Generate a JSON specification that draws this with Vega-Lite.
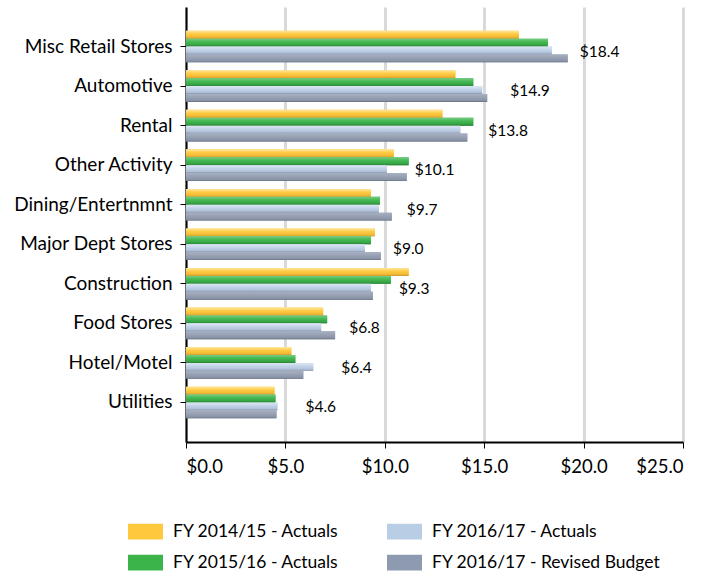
{
  "$schema": "https://vega.github.io/schema/vega-lite/v6.json",
  "autosize": "none",
  "padding": {"left": 186, "top": 7, "right": 24, "bottom": 134},
  "width": 497,
  "height": 435,
  "background": "white",
  "config": {
    "font": "Lato",
    "view": {"stroke": null},
    "axis": {"labelFont": "Lato", "labelColor": "black"}
  },
  "data": {
    "values": [
      {"cat": "Misc Retail Stores", "series": "FY 2014/15 - Actuals", "value": 16.75},
      {"cat": "Misc Retail Stores", "series": "FY 2015/16 - Actuals", "value": 18.2},
      {"cat": "Misc Retail Stores", "series": "FY 2016/17 - Actuals", "value": 18.4},
      {"cat": "Misc Retail Stores", "series": "FY 2016/17 - Revised Budget", "value": 19.2},
      {"cat": "Automotive", "series": "FY 2014/15 - Actuals", "value": 13.55},
      {"cat": "Automotive", "series": "FY 2015/16 - Actuals", "value": 14.45},
      {"cat": "Automotive", "series": "FY 2016/17 - Actuals", "value": 14.9},
      {"cat": "Automotive", "series": "FY 2016/17 - Revised Budget", "value": 15.15},
      {"cat": "Rental", "series": "FY 2014/15 - Actuals", "value": 12.9},
      {"cat": "Rental", "series": "FY 2015/16 - Actuals", "value": 14.45},
      {"cat": "Rental", "series": "FY 2016/17 - Actuals", "value": 13.8},
      {"cat": "Rental", "series": "FY 2016/17 - Revised Budget", "value": 14.15},
      {"cat": "Other Activity", "series": "FY 2014/15 - Actuals", "value": 10.45},
      {"cat": "Other Activity", "series": "FY 2015/16 - Actuals", "value": 11.2},
      {"cat": "Other Activity", "series": "FY 2016/17 - Actuals", "value": 10.1},
      {"cat": "Other Activity", "series": "FY 2016/17 - Revised Budget", "value": 11.1},
      {"cat": "Dining/Entertnmnt", "series": "FY 2014/15 - Actuals", "value": 9.3},
      {"cat": "Dining/Entertnmnt", "series": "FY 2015/16 - Actuals", "value": 9.75},
      {"cat": "Dining/Entertnmnt", "series": "FY 2016/17 - Actuals", "value": 9.7},
      {"cat": "Dining/Entertnmnt", "series": "FY 2016/17 - Revised Budget", "value": 10.35},
      {"cat": "Major Dept Stores", "series": "FY 2014/15 - Actuals", "value": 9.5},
      {"cat": "Major Dept Stores", "series": "FY 2015/16 - Actuals", "value": 9.3},
      {"cat": "Major Dept Stores", "series": "FY 2016/17 - Actuals", "value": 9.0},
      {"cat": "Major Dept Stores", "series": "FY 2016/17 - Revised Budget", "value": 9.8},
      {"cat": "Construction", "series": "FY 2014/15 - Actuals", "value": 11.2},
      {"cat": "Construction", "series": "FY 2015/16 - Actuals", "value": 10.3},
      {"cat": "Construction", "series": "FY 2016/17 - Actuals", "value": 9.3},
      {"cat": "Construction", "series": "FY 2016/17 - Revised Budget", "value": 9.4},
      {"cat": "Food Stores", "series": "FY 2014/15 - Actuals", "value": 6.9},
      {"cat": "Food Stores", "series": "FY 2015/16 - Actuals", "value": 7.1},
      {"cat": "Food Stores", "series": "FY 2016/17 - Actuals", "value": 6.8},
      {"cat": "Food Stores", "series": "FY 2016/17 - Revised Budget", "value": 7.5},
      {"cat": "Hotel/Motel", "series": "FY 2014/15 - Actuals", "value": 5.3},
      {"cat": "Hotel/Motel", "series": "FY 2015/16 - Actuals", "value": 5.5},
      {"cat": "Hotel/Motel", "series": "FY 2016/17 - Actuals", "value": 6.4},
      {"cat": "Hotel/Motel", "series": "FY 2016/17 - Revised Budget", "value": 5.9},
      {"cat": "Utilities", "series": "FY 2014/15 - Actuals", "value": 4.45},
      {"cat": "Utilities", "series": "FY 2015/16 - Actuals", "value": 4.5},
      {"cat": "Utilities", "series": "FY 2016/17 - Actuals", "value": 4.6},
      {"cat": "Utilities", "series": "FY 2016/17 - Revised Budget", "value": 4.55}
    ]
  },
  "encoding": {
    "y": {
      "field": "cat", "type": "nominal", "sort": null, "title": null,
      "scale": {"paddingInner": 0.2, "paddingOuter": 0.6},
      "axis": {"domainColor": "black", "domainWidth": 2, "tickColor": "black", "tickSize": 6, "tickWidth": 1, "labelPadding": 8, "labelLimit": 300, "labelFontSize": 19}
    },
    "yOffset": {
      "field": "series", "type": "nominal",
      "sort": ["FY 2014/15 - Actuals", "FY 2015/16 - Actuals", "FY 2016/17 - Actuals", "FY 2016/17 - Revised Budget"],
      "scale": {"paddingInner": 0, "paddingOuter": 0}
    },
    "x": {
      "field": "value", "type": "quantitative", "title": null,
      "scale": {"domain": [0, 25], "nice": false},
      "axis": {"values": [0, 5, 10, 15, 20, 25], "format": "$.1f", "grid": true, "gridColor": "#D9D9D9", "gridWidth": 3, "domainColor": "black", "domainWidth": 2, "tickColor": "black", "tickSize": 6, "labelPadding": 9, "labelFontSize": 18.5}
    }
  },
  "layer": [
    {
      "mark": {"type": "bar"},
      "encoding": {
        "color": {
          "field": "series", "type": "nominal", "title": null,
          "scale": {
            "domain": ["FY 2014/15 - Actuals", "FY 2016/17 - Actuals", "FY 2015/16 - Actuals", "FY 2016/17 - Revised Budget"],
            "range": ["#FFC83D", "#B9CDE5", "#3BB54A", "#8E9AAF"]
          },
          "legend": {
            "orient": "none", "legendX": -58, "legendY": 507, "columns": 2, "direction": "horizontal",
            "symbolType": "M-1,-0.45L1,-0.45L1,0.45L-1,0.45Z", "symbolSize": 1225, "symbolStrokeWidth": 0, "symbolOpacity": 1,
            "labelFont": "Lato", "labelFontSize": 17.5, "labelColor": "black", "labelLimit": 400, "labelOffset": 10,
            "columnPadding": 48, "rowPadding": 5
          }
        }
      }
    },
    {
      "transform": [{"filter": "datum.series === 'FY 2014/15 - Actuals'"}],
      "mark": {"type": "bar", "color": {"gradient": "linear", "x1": 0, "y1": 0, "x2": 0, "y2": 1, "stops": [{"offset": 0, "color": "#FFE7A0"}, {"offset": 0.4, "color": "#FFCB45"}, {"offset": 0.8, "color": "#F2B934"}, {"offset": 1, "color": "#C99A2E"}]}}
    },
    {
      "transform": [{"filter": "datum.series === 'FY 2015/16 - Actuals'"}],
      "mark": {"type": "bar", "color": {"gradient": "linear", "x1": 0, "y1": 0, "x2": 0, "y2": 1, "stops": [{"offset": 0, "color": "#7ACB84"}, {"offset": 0.4, "color": "#45B953"}, {"offset": 0.8, "color": "#36A444"}, {"offset": 1, "color": "#2B7F35"}]}}
    },
    {
      "transform": [{"filter": "datum.series === 'FY 2016/17 - Actuals'"}],
      "mark": {"type": "bar", "color": {"gradient": "linear", "x1": 0, "y1": 0, "x2": 0, "y2": 1, "stops": [{"offset": 0, "color": "#DDE7F3"}, {"offset": 0.4, "color": "#C3D4EA"}, {"offset": 0.8, "color": "#AFC0D8"}, {"offset": 1, "color": "#8393AA"}]}}
    },
    {
      "transform": [{"filter": "datum.series === 'FY 2016/17 - Revised Budget'"}],
      "mark": {"type": "bar", "color": {"gradient": "linear", "x1": 0, "y1": 0, "x2": 0, "y2": 1, "stops": [{"offset": 0, "color": "#A8B1C2"}, {"offset": 0.5, "color": "#959FB1"}, {"offset": 0.85, "color": "#8993A6"}, {"offset": 1, "color": "#646E80"}]}}
    },
    {
      "transform": [{"filter": "datum.series === 'FY 2016/17 - Actuals'"}],
      "mark": {"type": "text", "align": "left", "baseline": "middle", "dx": 28, "dy": 1, "fontSize": 15.5, "font": "Lato", "color": "black"},
      "encoding": {"text": {"field": "value", "type": "quantitative", "format": "$.1f"}}
    }
  ]
}
